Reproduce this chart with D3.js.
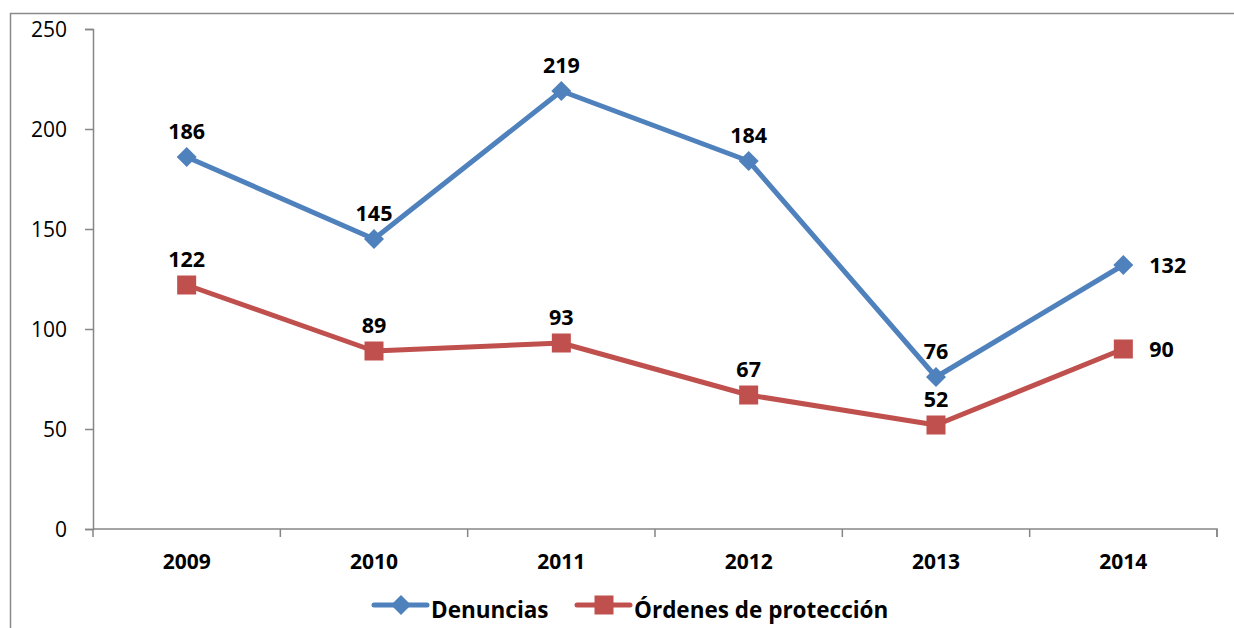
<!DOCTYPE html>
<html><head><meta charset="utf-8">
<script src="https://cdn.jsdelivr.net/npm/d3@7"></script>
<style>body{margin:0;background:#fff}svg{display:block}</style>
</head><body>
<svg id="c" width="1234" height="628"></svg>
<script>
const years = ["2009","2010","2011","2012","2013","2014"];
const denuncias = [186,145,219,184,76,132];
const ordenes = [122,89,93,67,52,90];
const yTicks = [0,50,100,150,200,250];
const seriesNames = ["Denuncias","Órdenes de protección"];

const svg = d3.select("#c");
const font = "'Open Sans', sans-serif";
const pLeft=93,pRight=1217,pTop=29,pBottom=529;
const x = d3.scaleBand().domain(years).range([pLeft,pRight]);
const y = d3.scaleLinear().domain([0,250]).range([pBottom,pTop]);
const cx = d=>x(d)+x.bandwidth()/2;

svg.append("rect").attr("x",10.5).attr("y",13.5).attr("width",1260).attr("height",660)
  .attr("fill","none").attr("stroke","#8a8a8a").attr("stroke-width",1.5);

const yAx = svg.append("g").attr("transform",`translate(${pLeft},0)`)
  .call(d3.axisLeft(y).tickValues(yTicks).tickSize(8).tickPadding(18));
yAx.selectAll("path,line").attr("stroke","#868686").attr("stroke-width",1.5);
yAx.selectAll("text").attr("font-family",font).attr("font-size",21).attr("fill","#000").attr("dy","0.35em");

const xAx = svg.append("g").attr("transform",`translate(0,${pBottom})`)
  .call(d3.axisBottom(x).tickSize(0));
xAx.select("path").attr("stroke","#868686").attr("stroke-width",1.5).attr("d",`M${pLeft},0H${pRight}V8`);
xAx.selectAll("text").attr("font-family",font).attr("font-size",21).attr("font-weight","bold")
  .attr("fill","#000").attr("y",40).attr("dy",null);
xAx.selectAll(".bd").data(d3.range(years.length+1)).enter().append("line")
  .attr("x1",i=>pLeft+i*x.bandwidth()).attr("x2",i=>pLeft+i*x.bandwidth())
  .attr("y1",0).attr("y2",8).attr("stroke","#868686").attr("stroke-width",1.5);

const series = [
  {name:seriesNames[0],vals:denuncias,color:"#4F81BD",shape:"diamond"},
  {name:seriesNames[1],vals:ordenes,color:"#C0504D",shape:"square"}
];
const line = d3.line().x(d=>cx(d[0])).y(d=>y(d[1]));
function marker(g,shape,color,px,py){
  if(shape==="diamond"){
    g.append("path").attr("d",`M${px},${py-10}L${px+10},${py}L${px},${py+10}L${px-10},${py}Z`).attr("fill",color);
  } else {
    g.append("rect").attr("x",px-9.5).attr("y",py-9.5).attr("width",19).attr("height",19).attr("fill",color);
  }
}
series.forEach(s=>{
  const pts = years.map((yr,i)=>[yr,s.vals[i]]);
  svg.append("path").datum(pts).attr("d",line).attr("fill","none").attr("stroke",s.color)
    .attr("stroke-width",5).attr("stroke-linejoin","round");
  const g = svg.append("g");
  pts.forEach(p=>marker(g,s.shape,s.color,cx(p[0]),y(p[1])));
  pts.forEach((p,i)=>{
    const last = i===years.length-1;
    svg.append("text").attr("x",last?cx(p[0])+26:cx(p[0])).attr("y",last?y(p[1])+8:y(p[1])-18)
      .attr("text-anchor",last?"start":"middle").attr("font-family",font).attr("font-size",21.5)
      .attr("font-weight","bold").text(p[1]);
  });
});

// legend
const legX = [374,577];
series.forEach((s,i)=>{
  const g = svg.append("g");
  const ly = 605;
  g.append("line").attr("x1",legX[i]).attr("x2",legX[i]+53).attr("y1",ly).attr("y2",ly)
    .attr("stroke",s.color).attr("stroke-width",5).attr("stroke-linecap","round");
  marker(g,s.shape,s.color,legX[i]+27,ly);
  g.append("text").attr("x",legX[i]+57).attr("y",ly+13).attr("font-family",font)
    .attr("font-size",22.5).attr("font-weight","bold").text(s.name);
});
</script>
</body></html>
